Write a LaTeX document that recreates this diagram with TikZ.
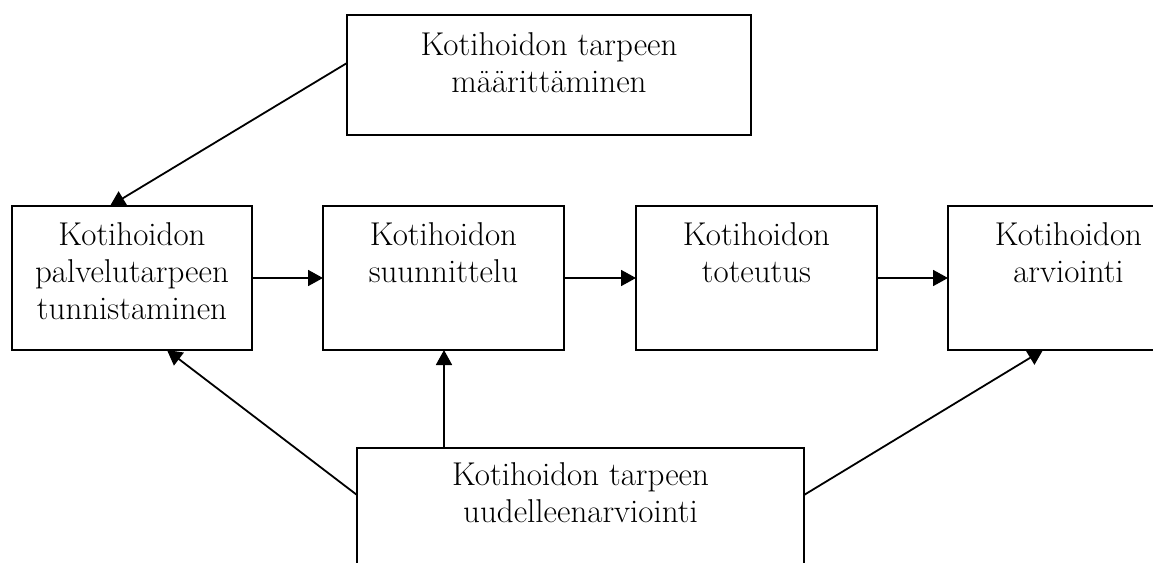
\documentclass[tikz,border=0pt]{standalone}
\usetikzlibrary{arrows.meta}
\begin{document}
\begin{tikzpicture}[x=0.5pt,y=-0.5pt,
  box/.style={draw, line width=0.9pt, rectangle, inner sep=0pt, outer sep=0pt},
  lbl/.style={anchor=base, inner sep=0pt, font=\fontsize{16.5}{18.5}\selectfont},
  conn/.style={line width=0.9pt, -{Triangle[length=7.5pt,width=8pt]}},
  plain/.style={line width=0.9pt}]
  \useasboundingbox (0,0) rectangle (1153,563);
  \clip (0,0) rectangle (1153,563);

  % boxes
  \node[box, minimum width=202pt, minimum height=60pt] (top) at (549,75) {};
  \node[box, minimum width=120pt, minimum height=72pt] (b1) at (132,278) {};
  \node[box, minimum width=120.5pt, minimum height=72pt] (b2) at (443.5,278) {};
  \node[box, minimum width=120.5pt, minimum height=72pt] (b3) at (756.5,278) {};
  \node[box, minimum width=120.5pt, minimum height=72pt] (b4) at (1068.5,278) {};
  \node[box, minimum width=223.5pt, minimum height=60pt] (bot) at (580.5,508) {};

  % texts, first baseline a fixed distance below each box's top edge
  \node[lbl] (ttop) at ([yshift=-20pt]top.north) {\begin{tabular}[t]{@{}c@{}}Kotihoidon tarpeen\\ määrittäminen\end{tabular}};
  \node[lbl] (t1) at ([yshift=-19.5pt]b1.north) {\begin{tabular}[t]{@{}c@{}}Kotihoidon\\ palvelutarpeen\\ tunnistaminen\end{tabular}};
  \node[lbl] (t2) at ([yshift=-19.5pt]b2.north) {\begin{tabular}[t]{@{}c@{}}Kotihoidon\\ suunnittelu\end{tabular}};
  \node[lbl] (t3) at ([yshift=-19.5pt]b3.north) {\begin{tabular}[t]{@{}c@{}}Kotihoidon\\ toteutus\end{tabular}};
  \node[lbl] (t4) at ([yshift=-19.5pt]b4.north) {\begin{tabular}[t]{@{}c@{}}Kotihoidon\\ arviointi\end{tabular}};
  \node[lbl] (tbot) at ([yshift=-18.5pt]bot.north) {\begin{tabular}[t]{@{}c@{}}Kotihoidon tarpeen\\ uudelleenarviointi\end{tabular}};

  % process chain
  \draw[conn] (b1.east) -- (b2.west);
  \draw[conn] (b2.east) -- (b3.west);
  \draw[conn] (b3.east) -- (b4.west);

  % needs assessment feeds the first step
  \draw[conn] ([yshift=6pt]top.west) -- ([xshift=-11pt]b1.north);

  % re-assessment feeds back
  \draw[conn] ([yshift=-23.5pt]bot.north west) -- ([xshift=17.5pt]b1.south);
  \draw[conn] ([xshift=0.25pt]b2.south |- bot.north) -- ([xshift=0.25pt]b2.south);
  \draw[conn] ([yshift=-23.5pt]bot.north east) -- ([xshift=-12.75pt]b4.south);
\end{tikzpicture}
\end{document}
